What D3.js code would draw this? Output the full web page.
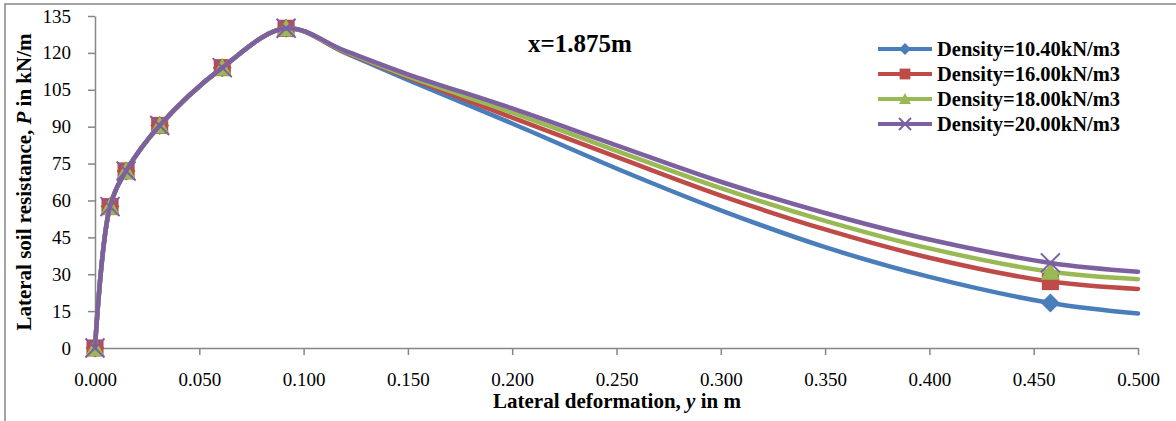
<!DOCTYPE html>
<html>
<head>
<meta charset="utf-8">
<script src="https://cdn.jsdelivr.net/npm/d3@7"></script>
<style>
  html, body { margin: 0; padding: 0; background: #fff; }
  svg { display: block; }
  text { font-family: "Liberation Serif", "Times New Roman", serif; fill: #000; }
</style>
</head>
<body>
<svg id="chart" width="1176" height="421"></svg>
<script>
// ---------- data ----------
const xValues = [0, 0.0072, 0.0149, 0.031, 0.061, 0.0916, 0.12, 0.15, 0.2, 0.25, 0.3, 0.35, 0.4, 0.458, 0.5];
const markerX = [0, 0.0072, 0.0149, 0.031, 0.061, 0.0916, 0.458];
const seriesNames = ["Density=10.40kN/m3", "Density=16.00kN/m3", "Density=18.00kN/m3", "Density=20.00kN/m3"];
const density1040 = [0, 57.5, 72, 90.5, 114, 130, 120, 109, 91.3, 73.0, 56.0, 41.0, 28.9, 18.3, 14];
const density1600 = [0, 57.5, 72, 90.5, 114, 130, 120.3, 110, 93.7, 77.7, 62.0, 48.2, 36.7, 27, 24];
const density1800 = [0, 57.5, 72, 90.5, 114, 130, 120.5, 110.5, 95.7, 80.2, 65.0, 51.7, 40.5, 31, 28];
const density2000 = [0, 57.5, 72, 90.5, 114, 130, 120.8, 111.3, 97.4, 82.4, 67.6, 54.9, 44.1, 34.6, 31];
const yTicks = [0, 15, 30, 45, 60, 75, 90, 105, 120, 135];
const xTicks = [0, 0.05, 0.1, 0.15, 0.2, 0.25, 0.3, 0.35, 0.4, 0.45, 0.5];
const titleText = "x=1.875m";

// ---------- styles ----------
const colors = ["#4A7EBB", "#BE4B48", "#98B954", "#7D60A0"];
const markerTypes = ["diamond", "square", "triangle", "cross"];
const allSeries = [density1040, density1600, density1800, density2000];

const svg = d3.select("#chart");
const axisColor = "#868686";

// outer border
svg.append("rect").attr("x", 5).attr("y", 4).attr("width", 1200).attr("height", 440)
  .attr("fill", "none").attr("stroke", axisColor).attr("stroke-width", 1.5);

const x = d3.scaleLinear().domain([0, 0.5]).range([95, 1138]);
const y = d3.scaleLinear().domain([0, 135]).range([348, 16]);

// y axis
const yAxis = svg.append("g").attr("transform", `translate(${x(0)},0)`)
  .call(d3.axisLeft(y).tickValues(yTicks).tickSize(7).tickPadding(17).tickSizeOuter(0));
yAxis.select(".domain").attr("stroke", axisColor).attr("stroke-width", 1.5);
yAxis.selectAll(".tick line").attr("stroke", axisColor).attr("stroke-width", 1.5);
yAxis.selectAll(".tick text").attr("font-size", 19).attr("font-family", "Liberation Serif").attr("fill", "#000");

// x axis
const xAxis = svg.append("g").attr("transform", `translate(0,${y(0)})`)
  .call(d3.axisBottom(x).tickValues(xTicks).tickFormat(d3.format(".3f")).tickSize(7).tickPadding(18).tickSizeOuter(0));
xAxis.select(".domain").attr("stroke", axisColor).attr("stroke-width", 1.5);
xAxis.selectAll(".tick line").attr("stroke", axisColor).attr("stroke-width", 1.5)
  .filter(d => d === 0).remove();
xAxis.selectAll(".tick text").attr("font-size", 19).attr("font-family", "Liberation Serif").attr("fill", "#000");

// axis titles
const yt = svg.append("text").attr("transform", "translate(31,182) rotate(-90)")
  .attr("text-anchor", "middle").attr("font-size", 21).attr("font-weight", "bold");
yt.append("tspan").text("Lateral soil resistance, ");
yt.append("tspan").attr("font-style", "italic").text("P");
yt.append("tspan").text(" in kN/m");

const xt = svg.append("text").attr("x", 617).attr("y", 408)
  .attr("text-anchor", "middle").attr("font-size", 21).attr("font-weight", "bold");
xt.append("tspan").text("Lateral deformation, ");
xt.append("tspan").attr("font-style", "italic").text("y");
xt.append("tspan").text(" in m");

// title
svg.append("text").attr("x", 580).attr("y", 52).attr("text-anchor", "middle")
  .attr("font-size", 25).attr("font-weight", "bold").text(titleText);

// marker drawing
function drawMarker(g, type, cx, cy, s, color) {
  const h = s / 2;
  if (type === "diamond") {
    g.append("path").attr("d", `M${cx},${cy - h}L${cx + h},${cy}L${cx},${cy + h}L${cx - h},${cy}Z`).attr("fill", color);
  } else if (type === "square") {
    g.append("rect").attr("x", cx - h * 0.9).attr("y", cy - h * 0.9).attr("width", s * 0.9).attr("height", s * 0.9).attr("fill", color);
  } else if (type === "triangle") {
    g.append("path").attr("d", `M${cx},${cy - h}L${cx + h},${cy + h * 0.85}L${cx - h},${cy + h * 0.85}Z`).attr("fill", color);
  } else {
    g.append("path").attr("d", `M${cx - h},${cy - h}L${cx + h},${cy + h}M${cx + h},${cy - h}L${cx - h},${cy + h}`)
      .attr("stroke", color).attr("stroke-width", 2).attr("fill", "none");
  }
}

const line = d3.line().x(d => x(d[0])).y(d => y(d[1])).curve(d3.curveCatmullRom.alpha(0.5));

allSeries.forEach((vals, i) => {
  const g = svg.append("g");
  const pts = xValues.map((xv, j) => [xv, vals[j]]);
  g.append("path").attr("d", line(pts)).attr("fill", "none")
    .attr("stroke", colors[i]).attr("stroke-width", 4.5).attr("stroke-linejoin", "round").attr("stroke-linecap", "round");
  markerX.forEach(mx => {
    const j = xValues.indexOf(mx);
    drawMarker(g, markerTypes[i], x(mx), y(vals[j]), 19, colors[i]);
  });
});

// legend
seriesNames.forEach((name, i) => {
  const cy = 49 + i * 25;
  const g = svg.append("g");
  g.append("line").attr("x1", 878).attr("x2", 932).attr("y1", cy).attr("y2", cy)
    .attr("stroke", colors[i]).attr("stroke-width", 4);
  drawMarker(g, markerTypes[i], 905, cy, 12, colors[i]);
  g.append("text").attr("x", 937).attr("y", cy + 7).attr("font-size", 20.5).attr("font-weight", "bold").text(name);
});
</script>
</body>
</html>
